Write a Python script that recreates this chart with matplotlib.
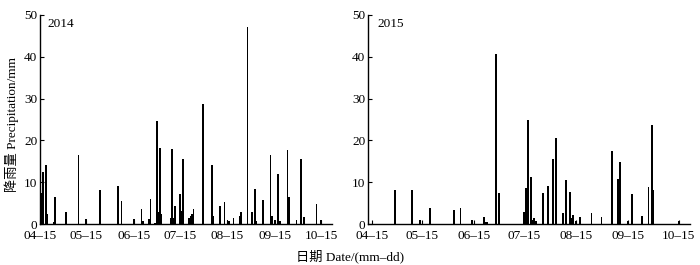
import matplotlib
matplotlib.use("Agg")
import matplotlib.pyplot as plt

# days after 15 April, daily precipitation (mm)
day_2014 = [1, 2, 4, 5, 9, 10, 17, 25, 30, 39, 51, 53, 61, 66, 67, 71, 72, 75,
            76, 77, 78, 79, 85, 86, 87, 88, 91, 92, 93, 97, 98, 99, 100, 106,
            112, 113, 117, 120, 122, 123, 126, 130, 131, 135, 138, 140, 141,
            145, 150, 151, 153, 155, 156, 161, 162, 167, 170, 172, 180, 183]
rain_2014 = [7.3, 12.4, 14.1, 2.5, 0.5, 6.4, 2.9, 16.5, 1.1, 8.1, 9.0, 5.5, 1.1,
             3.5, 0.6, 1.3, 6.1, 0.3, 24.6, 2.9, 18.2, 2.4, 1.5, 17.9, 1.4, 4.3,
             7.2, 3.0, 15.5, 1.4, 1.9, 2.4, 3.6, 28.6, 14.1, 1.9, 4.4, 5.3, 1.0,
             0.8, 1.4, 1.8, 2.9, 47.1, 2.9, 8.4, 0.6, 5.7, 16.5, 1.9, 1.0, 11.9,
             0.6, 17.7, 6.4, 0.9, 15.5, 1.6, 4.8, 1.0]

day_2015 = [14, 24, 29, 35, 49, 53, 60, 67, 68, 69, 74, 76, 91, 92, 93, 95, 96,
            97, 98, 102, 105, 108, 110, 114, 116, 118, 119, 120, 122, 124, 131,
            137, 143, 147, 148, 153, 155, 161, 165, 167, 168, 183]
rain_2015 = [8.2, 8.2, 0.9, 3.8, 3.3, 3.8, 0.9, 1.6, 0.5, 0.4, 40.7, 7.5, 2.9,
             8.6, 24.8, 11.3, 1.0, 1.4, 0.7, 7.3, 9.2, 15.5, 20.6, 2.6, 10.6,
             7.7, 1.4, 2.2, 0.8, 1.6, 2.6, 1.6, 17.5, 10.8, 14.8, 0.8, 7.1, 1.8,
             8.8, 23.7, 8.1, 0.8]

tick_days = [0, 30, 61, 91, 122, 153, 183]
tick_labels = ["04–15", "05–15", "06–15", "07–15", "08–15", "09–15", "10–15"]

fonts = ["Liberation Serif", "Noto Sans CJK SC"]
plt.rcParams["font.family"] = fonts
plt.rcParams["font.size"] = 9.5

fig = plt.figure(figsize=(7, 2.65), dpi=100)
ax1 = fig.add_axes([0.0571, 0.1547, 0.4171, 0.7887])
ax2 = fig.add_axes([0.5261, 0.1547, 0.4596, 0.7887])

panels = [
    (ax1, day_2014, rain_2014, "2014", (0.3, 190)),
    (ax2, day_2015, rain_2015, "2015", (-2, 189.7)),
]
for ax, days, rain, year, xlim in panels:
    ax.bar(days, rain, width=1.1, color="black", linewidth=0)
    ax.set_xlim(*xlim)
    ax.set_ylim(0, 50)
    ax.set_yticks([0, 10, 20, 30, 40, 50])
    ax.set_xticks(tick_days)
    ax.set_xticklabels(tick_labels)
    for side in ("top", "right"):
        ax.spines[side].set_visible(False)
    for side in ("left", "bottom"):
        ax.spines[side].set_linewidth(1.0)
    ax.tick_params(direction="in", length=3, width=0.8, labelsize=9.5)
    ax.tick_params(axis="y", pad=2)
    ax.tick_params(axis="x", pad=4.5)
    ax.text(0.027, 0.985, year, transform=ax.transAxes, ha="left", va="top",
            fontsize=9.5)

fig.text(12 / 700, 1 - 125 / 265, "降雨量 Precipitation/mm", rotation=90,
         ha="center", va="center", fontsize=9.5)
fig.text(350 / 700, 1 - 256 / 265, "日期 Date/(mm–dd)", ha="center",
         va="center", fontsize=9.5)

fig.savefig("out.png", dpi=100)
